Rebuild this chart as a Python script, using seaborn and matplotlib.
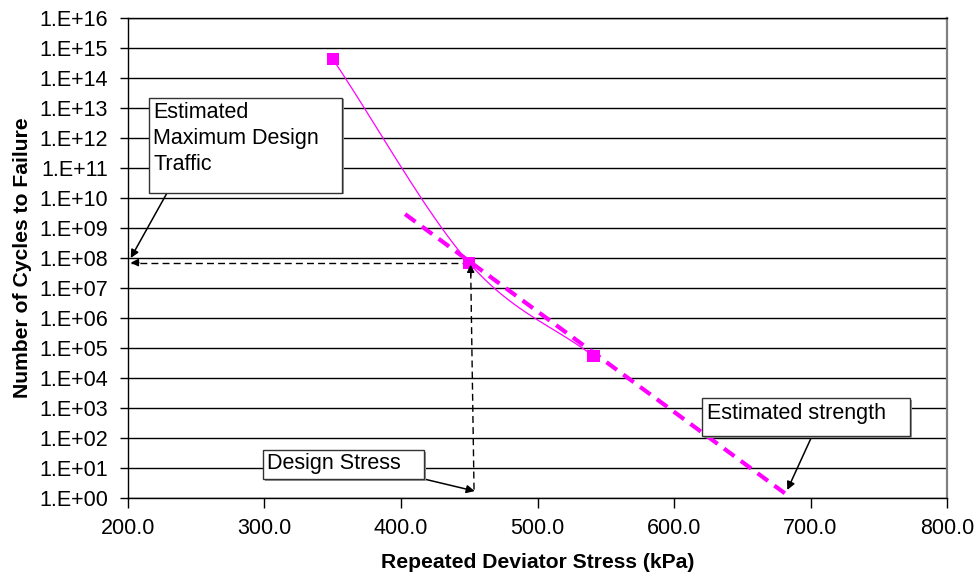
import numpy as np
import matplotlib
matplotlib.use("Agg")
import matplotlib.pyplot as plt
import seaborn as sns
from matplotlib.patches import Rectangle
from matplotlib.ticker import FixedLocator, FuncFormatter, NullLocator

# Measured fatigue results
stress_kpa = [350.0, 450.0, 541.0]
cycles_to_failure = [4.3e14, 6.8e7, 5.4e4]

# Log-linear strength trend line (end points)
trend_stress = [403.0, 683.0]
trend_cycles = [2.9e9, 1.25]

# Design reference values
design_stress = 452.0
design_traffic = 7.0e7
estimated_strength = 683.0

x_ticks = [200, 300, 400, 500, 600, 700, 800]
y_exponents = list(range(0, 17))

MAGENTA = "#FF00FF"
W, H = 977, 579

sns.set_style("white")
plt.rcParams["font.family"] = ["Liberation Sans", "DejaVu Sans"]
plt.rcParams.update({"text.color": "black", "axes.labelcolor": "black",
                     "xtick.color": "black", "ytick.color": "black"})

fig = plt.figure(figsize=(W / 100, H / 100), dpi=100)
ax = fig.add_axes([128 / W, 1 - 498 / H, (947 - 128) / W, (498 - 18) / H])

ax.set_yscale("log")
ax.set_xlim(x_ticks[0], x_ticks[-1])
ax.set_ylim(10.0 ** y_exponents[0], 10.0 ** y_exponents[-1])


def smooth_curve(ax, xs, ys, n=60):
    """Cubic Hermite (Catmull-Rom) smoothing done in display space."""
    pts = ax.transData.transform(np.column_stack([xs, ys]))
    k = len(pts)
    tang = np.zeros_like(pts)
    tang[0] = pts[1] - pts[0]
    tang[-1] = pts[-1] - pts[-2]
    for i in range(1, k - 1):
        tang[i] = (pts[i + 1] - pts[i - 1]) / 2.0
    t = np.linspace(0, 1, n)[:, None]
    h00 = 2 * t**3 - 3 * t**2 + 1
    h10 = t**3 - 2 * t**2 + t
    h01 = -2 * t**3 + 3 * t**2
    h11 = t**3 - t**2
    segs = []
    for i in range(k - 1):
        seg = h00 * pts[i] + h10 * tang[i] + h01 * pts[i + 1] + h11 * tang[i + 1]
        segs.append(seg if i == 0 else seg[1:])
    path = ax.transData.inverted().transform(np.vstack(segs))
    return path[:, 0], path[:, 1]


sx, sy = smooth_curve(ax, stress_kpa, cycles_to_failure)
sns.lineplot(x=sx, y=sy, sort=False, estimator=None, color=MAGENTA,
             linewidth=0.9, ax=ax, legend=False, zorder=3)
sns.lineplot(x=trend_stress, y=trend_cycles, sort=False, estimator=None,
             color=MAGENTA, linewidth=3.0, linestyle=(0, (3.1, 1.9)),
             ax=ax, legend=False, zorder=3)
sns.scatterplot(x=stress_kpa, y=cycles_to_failure, marker="s", s=78,
                color=MAGENTA, edgecolor="none", ax=ax, legend=False, zorder=4)

# Design traffic / design stress guide lines
dash_kw = dict(color="black", linewidth=1.0, linestyle=(0, (5, 3)), zorder=3)
ax.plot([stress_kpa[1], 202.0], [design_traffic, design_traffic], **dash_kw)
ax.plot([design_stress + 1.5, design_stress - 1.0], [1.9, 6.0e7], **dash_kw)

head = dict(arrowstyle="-|>", color="black", lw=1.0, mutation_scale=11,
            shrinkA=0, shrinkB=0)
ax.annotate("", xy=(202.0, design_traffic), xytext=(208.0, design_traffic),
            arrowprops=head, zorder=4)
ax.annotate("", xy=(design_stress - 1.0, 6.0e7), xytext=(design_stress - 0.9, 2.5e7),
            arrowprops=head, zorder=4)

# Axis styling
ax.xaxis.set_major_locator(FixedLocator(x_ticks))
ax.xaxis.set_major_formatter(FuncFormatter(lambda v, p: f"{v:.1f}"))
ax.yaxis.set_major_locator(FixedLocator([10.0 ** e for e in y_exponents]))
ax.yaxis.set_minor_locator(NullLocator())
ax.yaxis.set_major_formatter(
    FuncFormatter(lambda v, p: f"1.E+{int(round(np.log10(v))):02d}"))

ax.grid(False)
ax.yaxis.grid(True, color="black", linewidth=1.0)
ax.set_axisbelow(True)

for side in ("left", "bottom", "top"):
    ax.spines[side].set_color("black")
    ax.spines[side].set_linewidth(1.0)
ax.spines["right"].set_color("#808080")
ax.spines["right"].set_linewidth(1.6)

ax.tick_params(axis="y", direction="out", length=6, width=1.0, pad=8.5,
               labelsize=15.5, color="black", left=True)
ax.tick_params(axis="x", direction="out", length=7, width=1.0, pad=7.5,
               labelsize=15.5, color="black", bottom=True)

ax.set_xlabel("Repeated Deviator Stress (kPa)", fontsize=15.2, fontweight="bold")
ax.set_ylabel("Number of Cycles to Failure", fontsize=15.2, fontweight="bold")
ax.xaxis.set_label_coords(0.5, (498 - 553) / 480)
ax.yaxis.set_label_coords((32 - 128) / 819, 0.5)


# Callout boxes
def callout(x0, y0, x1, y1, lines, baselines, left, tip):
    fig.add_artist(Rectangle(((x0 + 1.5) / W, 1 - (y1 + 1.5) / H),
                             (x1 - x0) / W, (y1 - y0) / H,
                             transform=fig.transFigure, facecolor="#9a9a9a",
                             edgecolor="none", zorder=5))
    fig.add_artist(Rectangle((x0 / W, 1 - y1 / H), (x1 - x0) / W, (y1 - y0) / H,
                             transform=fig.transFigure, facecolor="white",
                             edgecolor="#333333", linewidth=1.0, zorder=6))
    for s, b in zip(lines, baselines):
        fig.text(left / W, 1 - b / H, s, fontsize=15.5, ha="left",
                 va="baseline", zorder=7)
    start, end = tip
    ax.annotate("", xy=end, xycoords="data",
                xytext=(start[0], H - start[1]), textcoords="figure pixels",
                arrowprops=dict(arrowstyle="-|>", color="black", lw=1.1,
                                mutation_scale=12, shrinkA=0, shrinkB=0),
                zorder=4)


callout(149, 98, 342, 193, ["Estimated", "Maximum Design", "Traffic"],
        [118, 144, 170], 153, ((167, 193), (202.0, 1.0e8)))
callout(263, 450, 424, 479, ["Design Stress"], [469], 267,
        ((424, 479), (design_stress + 2.0, 1.7)))
callout(702, 398, 910, 436, ["Estimated strength"], [419], 707,
        ((812, 436), (estimated_strength, 1.85)))

fig.savefig("out.png", dpi=100)
